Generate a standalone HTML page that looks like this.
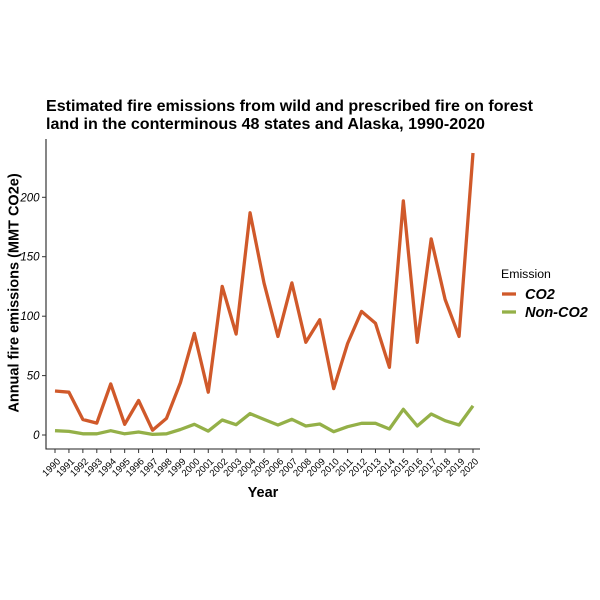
<!DOCTYPE html>
<html>
<head>
<meta charset="utf-8">
<style>
  html, body { margin: 0; padding: 0; background: #ffffff; }
  svg { display: block; }
  text { font-family: "Liberation Sans", Arial, sans-serif; fill: #000; }
</style>
</head>
<body>
<svg width="600" height="600" viewBox="0 0 600 600" xmlns="http://www.w3.org/2000/svg">
  <rect x="0" y="0" width="600" height="600" fill="#ffffff"/>

  <!-- Title -->
  <text x="46" y="111" font-size="16" font-weight="bold" textLength="487" lengthAdjust="spacingAndGlyphs">Estimated fire emissions from wild and prescribed fire on forest</text>
  <text x="46" y="129" font-size="16" font-weight="bold" textLength="439" lengthAdjust="spacingAndGlyphs">land in the conterminous 48 states and Alaska, 1990-2020</text>

  <!-- Axes -->
  <line x1="46" y1="139" x2="46" y2="449.5" stroke="#222" stroke-width="1.1"/>
  <line x1="45.5" y1="449" x2="480" y2="449" stroke="#222" stroke-width="1.1"/>

  <!-- Y ticks -->
  <g stroke="#333" stroke-width="1">
    <line x1="42" y1="435" x2="46" y2="435"/>
    <line x1="42" y1="375.6" x2="46" y2="375.6"/>
    <line x1="42" y1="316.2" x2="46" y2="316.2"/>
    <line x1="42" y1="256.7" x2="46" y2="256.7"/>
    <line x1="42" y1="197.3" x2="46" y2="197.3"/>
  </g>
  <g font-size="11.5" font-style="italic" text-anchor="end" fill="#222">
    <text x="39.5" y="439">0</text>
    <text x="39.5" y="379.6">50</text>
    <text x="39.5" y="320.2">100</text>
    <text x="39.5" y="260.7">150</text>
    <text x="39.5" y="201.3">200</text>
  </g>

  <!-- Y axis title -->
  <text transform="translate(18.5,293) rotate(-90)" font-size="14.5" font-weight="bold" text-anchor="middle">Annual fire emissions (MMT CO2e)</text>

  <!-- X ticks -->
  <g stroke="#333" stroke-width="1">
    <line x1="55" y1="449" x2="55" y2="453"/>
    <line x1="68.93" y1="449" x2="68.93" y2="453"/>
    <line x1="82.87" y1="449" x2="82.87" y2="453"/>
    <line x1="96.8" y1="449" x2="96.8" y2="453"/>
    <line x1="110.73" y1="449" x2="110.73" y2="453"/>
    <line x1="124.67" y1="449" x2="124.67" y2="453"/>
    <line x1="138.6" y1="449" x2="138.6" y2="453"/>
    <line x1="152.53" y1="449" x2="152.53" y2="453"/>
    <line x1="166.47" y1="449" x2="166.47" y2="453"/>
    <line x1="180.4" y1="449" x2="180.4" y2="453"/>
    <line x1="194.33" y1="449" x2="194.33" y2="453"/>
    <line x1="208.27" y1="449" x2="208.27" y2="453"/>
    <line x1="222.2" y1="449" x2="222.2" y2="453"/>
    <line x1="236.13" y1="449" x2="236.13" y2="453"/>
    <line x1="250.07" y1="449" x2="250.07" y2="453"/>
    <line x1="264" y1="449" x2="264" y2="453"/>
    <line x1="277.93" y1="449" x2="277.93" y2="453"/>
    <line x1="291.87" y1="449" x2="291.87" y2="453"/>
    <line x1="305.8" y1="449" x2="305.8" y2="453"/>
    <line x1="319.73" y1="449" x2="319.73" y2="453"/>
    <line x1="333.67" y1="449" x2="333.67" y2="453"/>
    <line x1="347.6" y1="449" x2="347.6" y2="453"/>
    <line x1="361.53" y1="449" x2="361.53" y2="453"/>
    <line x1="375.47" y1="449" x2="375.47" y2="453"/>
    <line x1="389.4" y1="449" x2="389.4" y2="453"/>
    <line x1="403.33" y1="449" x2="403.33" y2="453"/>
    <line x1="417.27" y1="449" x2="417.27" y2="453"/>
    <line x1="431.2" y1="449" x2="431.2" y2="453"/>
    <line x1="445.13" y1="449" x2="445.13" y2="453"/>
    <line x1="459.07" y1="449" x2="459.07" y2="453"/>
    <line x1="473" y1="449" x2="473" y2="453"/>
  </g>

  <!-- X tick labels (rotated 45deg) -->
  <g font-size="9.5" text-anchor="end" fill="#222">
    <text transform="translate(61,462) rotate(-45)">1990</text>
    <text transform="translate(74.93,462) rotate(-45)">1991</text>
    <text transform="translate(88.87,462) rotate(-45)">1992</text>
    <text transform="translate(102.8,462) rotate(-45)">1993</text>
    <text transform="translate(116.73,462) rotate(-45)">1994</text>
    <text transform="translate(130.67,462) rotate(-45)">1995</text>
    <text transform="translate(144.6,462) rotate(-45)">1996</text>
    <text transform="translate(158.53,462) rotate(-45)">1997</text>
    <text transform="translate(172.47,462) rotate(-45)">1998</text>
    <text transform="translate(186.4,462) rotate(-45)">1999</text>
    <text transform="translate(200.33,462) rotate(-45)">2000</text>
    <text transform="translate(214.27,462) rotate(-45)">2001</text>
    <text transform="translate(228.2,462) rotate(-45)">2002</text>
    <text transform="translate(242.13,462) rotate(-45)">2003</text>
    <text transform="translate(256.07,462) rotate(-45)">2004</text>
    <text transform="translate(270,462) rotate(-45)">2005</text>
    <text transform="translate(283.93,462) rotate(-45)">2006</text>
    <text transform="translate(297.87,462) rotate(-45)">2007</text>
    <text transform="translate(311.8,462) rotate(-45)">2008</text>
    <text transform="translate(325.73,462) rotate(-45)">2009</text>
    <text transform="translate(339.67,462) rotate(-45)">2010</text>
    <text transform="translate(353.6,462) rotate(-45)">2011</text>
    <text transform="translate(367.53,462) rotate(-45)">2012</text>
    <text transform="translate(381.47,462) rotate(-45)">2013</text>
    <text transform="translate(395.4,462) rotate(-45)">2014</text>
    <text transform="translate(409.33,462) rotate(-45)">2015</text>
    <text transform="translate(423.27,462) rotate(-45)">2016</text>
    <text transform="translate(437.2,462) rotate(-45)">2017</text>
    <text transform="translate(451.13,462) rotate(-45)">2018</text>
    <text transform="translate(465.07,462) rotate(-45)">2019</text>
    <text transform="translate(479,462) rotate(-45)">2020</text>
  </g>

  <!-- X axis title -->
  <text x="263" y="497" font-size="14.5" font-weight="bold" text-anchor="middle">Year</text>

  <!-- Non-CO2 series -->
  <polyline fill="none" stroke="#94B048" stroke-width="3.3" stroke-linejoin="round" stroke-linecap="butt"
    points="55,430.7 68.93,431.4 82.87,433.8 96.8,433.8 110.73,430.7 124.67,433.8 138.6,432 152.53,434.4 166.47,433.8 180.4,429.5 194.33,424.3 208.27,431.1 222.2,420 236.13,424.7 250.07,413.6 264,419.4 277.93,425 291.87,419.3 305.8,426 319.73,424 333.67,431.7 347.6,426.7 361.53,423.3 375.47,423.3 389.4,429 403.33,409.3 417.27,426 431.2,414 445.13,420.7 459.07,425 473,405.8"/>

  <!-- CO2 series -->
  <polyline fill="none" stroke="#D0592A" stroke-width="3.3" stroke-linejoin="round" stroke-linecap="butt"
    points="55,391 68.93,392.2 82.87,419.5 96.8,423.1 110.73,383.9 124.67,424.3 138.6,400.5 152.53,430.2 166.47,418.4 180.4,382.7 194.33,333.4 208.27,392.2 222.2,286.4 236.13,334 250.07,212.8 264,282.9 277.93,336.4 291.87,282.9 305.8,342.3 319.73,319.7 333.67,388.6 347.6,343.5 361.53,311.4 375.47,323.3 389.4,367.3 403.33,200.9 417.27,342.3 431.2,238.9 445.13,299.5 459.07,336.4 473,153"/>

  <!-- Legend -->
  <text x="501" y="278" font-size="12.3" fill="#222">Emission</text>
  <line x1="502" y1="294" x2="516" y2="294" stroke="#D0592A" stroke-width="3.3"/>
  <line x1="502" y1="312" x2="516" y2="312" stroke="#94B048" stroke-width="3.3"/>
  <text x="525" y="299" font-size="14.5" font-weight="bold" font-style="italic">CO2</text>
  <text x="525" y="317" font-size="14.5" font-weight="bold" font-style="italic">Non-CO2</text>
</svg>
</body>
</html>
